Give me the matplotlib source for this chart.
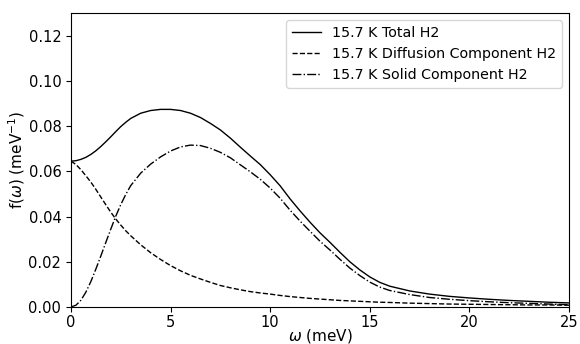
import numpy as np
import matplotlib
matplotlib.use("Agg")
import matplotlib.pyplot as plt

# energie ekseni (meV)
omega = [0, 0.25, 0.5, 0.75, 1, 1.25, 1.5, 1.75, 2, 2.25, 2.5, 2.75, 3,
         3.5, 4, 4.5, 5, 5.5, 6, 6.5, 7, 7.5, 8, 8.5, 9, 9.5, 10, 10.5, 11,
         11.5, 12, 12.5, 13, 13.5, 14, 14.5, 15, 15.5, 16, 17, 18, 19, 20,
         21, 22, 23, 24, 25]

total = [0.0645, 0.0647, 0.0653, 0.0662, 0.0675, 0.0691, 0.0710, 0.0731,
         0.0753, 0.0776, 0.0798, 0.0817, 0.0834,
         0.0857, 0.0869, 0.0874, 0.0874, 0.0869, 0.0857, 0.0838, 0.0812,
         0.0783, 0.0747, 0.0707, 0.0668, 0.0630, 0.0585, 0.0536, 0.0478,
         0.0425, 0.0375, 0.0328, 0.0286, 0.0242, 0.0200, 0.0164, 0.0133,
         0.0109, 0.0092, 0.0071, 0.0057, 0.0047, 0.0040, 0.0034, 0.0029,
         0.0025, 0.0021, 0.0018]

diffusion = [0.0645, 0.0630, 0.0607, 0.0580, 0.0552, 0.0520, 0.0486, 0.0452,
             0.0419, 0.0389, 0.0362, 0.0337, 0.0315,
             0.0275, 0.0240, 0.0210, 0.0183, 0.0160, 0.0140, 0.0124, 0.0109,
             0.0095, 0.0085, 0.0076, 0.0068, 0.0062, 0.0057, 0.0051, 0.0046,
             0.0042, 0.0038, 0.0035, 0.0032, 0.0029, 0.0027, 0.0025, 0.0023,
             0.0021, 0.0020, 0.0017, 0.0015, 0.0013, 0.0012, 0.0011, 0.0010,
             0.0009, 0.0009, 0.0008]

solid = [0.0, 0.0008, 0.0030, 0.0066, 0.0113, 0.0168, 0.0226, 0.0286,
         0.0345, 0.0402, 0.0453, 0.0498, 0.0537,
         0.0592, 0.0632, 0.0664, 0.0690, 0.0708, 0.0716, 0.0714, 0.0702,
         0.0684, 0.0660, 0.0629, 0.0598, 0.0565, 0.0526, 0.0481, 0.0428,
         0.0380, 0.0335, 0.0291, 0.0252, 0.0211, 0.0172, 0.0139, 0.0110,
         0.0088, 0.0073, 0.0055, 0.0042, 0.0034, 0.0028, 0.0023, 0.0019,
         0.0016, 0.0013, 0.0010]

labels = ["15.7 K Total H2", "15.7 K Diffusion Component H2",
          "15.7 K Solid Component H2"]

fig, ax = plt.subplots(figsize=(5.8, 3.44), dpi=100)
fig.subplots_adjust(left=0.1224, right=0.981, top=0.962, bottom=0.1076)

ax.plot(omega, total, color="black", lw=1.0, ls="-", label=labels[0])
ax.plot(omega, diffusion, color="black", lw=1.0, ls="--", label=labels[1])
ax.plot(omega, solid, color="black", lw=1.0, ls="-.", label=labels[2])

ax.set_xlim(0, 25)
ax.set_ylim(0, 0.13)
yt = np.arange(0, 0.13, 0.02)
ax.set_yticks(yt)
ax.set_yticklabels(["%.2f" % v for v in yt])
ax.tick_params(labelsize=10.5)
ax.tick_params(axis="x", pad=2)
ax.set_xlabel(r"$\omega$ (meV)", fontsize=11, labelpad=-2)
ax.set_ylabel(r"f($\omega$) (meV$^{-1}$)", fontsize=11, labelpad=1)
ax.legend(loc="upper right", fontsize=10.3)

fig.savefig("out.png", dpi=100)
